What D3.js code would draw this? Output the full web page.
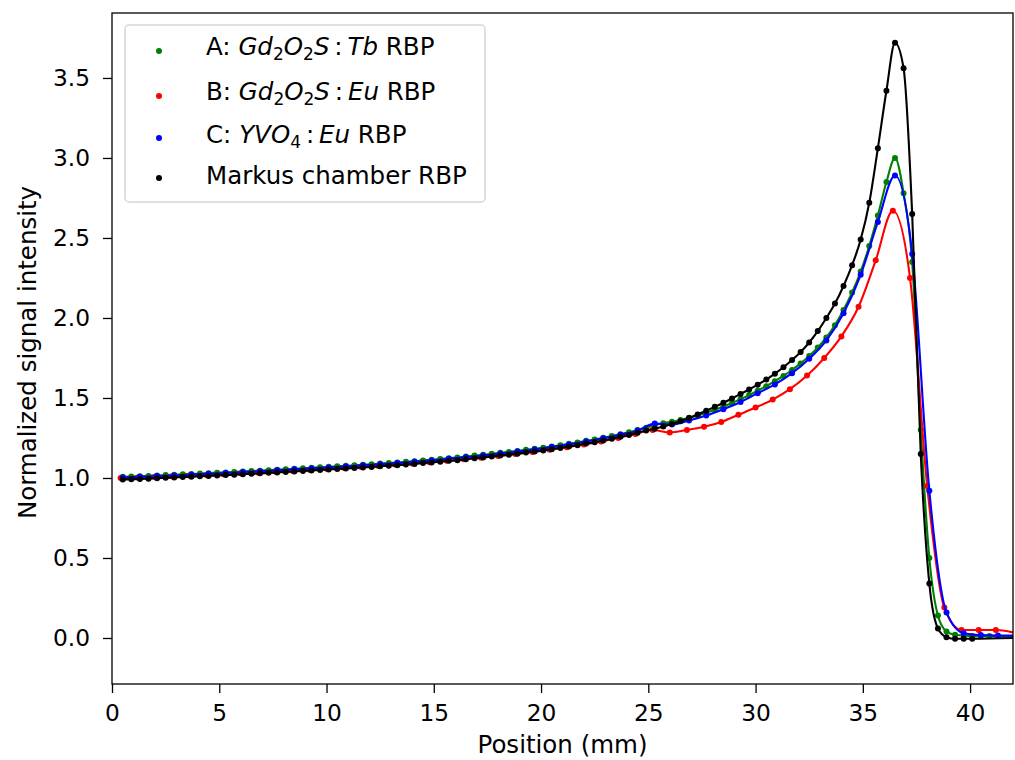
<!DOCTYPE html>
<html><head><meta charset="utf-8">
<script src="https://cdn.jsdelivr.net/npm/d3@7"></script>
<style>
body{margin:0;background:#fff}
text{font-family:"DejaVu Sans",sans-serif;fill:#000}
</style>
</head><body>
<svg id="c" width="1015" height="760"></svg>
<script>
// ---------- data ----------
const xTicks = [0,5,10,15,20,25,30,35,40];
const yTicks = [0,0.5,1,1.5,2,2.5,3,3.5];
const xDomain = [0,42];
const yDomain = [-0.2875,3.906];

// fine sampling (A and Markus chamber)
const xFine = [0.5,0.9,1.3,1.7,2.1,2.5,2.9,3.3,3.7,4.1,4.5,4.9,5.3,5.7,6.1,6.5,6.9,7.3,7.7,8.1,
 8.5,8.9,9.3,9.7,10.1,10.5,10.9,11.3,11.7,12.1,12.5,12.9,13.3,13.7,14.1,14.5,14.9,15.3,15.7,16.1,
 16.5,16.9,17.3,17.7,18.1,18.5,18.9,19.3,19.7,20.1,20.5,20.9,21.3,21.7,22.1,22.5,22.9,23.3,23.7,24.1,
 24.5,24.9,25.3,25.7,26.1,26.5,26.9,27.3,27.7,28.1,28.5,28.9,29.3,29.7,30.1,30.5,30.9,31.3,31.7,32.1,
 32.5,32.9,33.3,33.7,34.1,34.5,34.9,35.3,35.7,36.1,36.5,36.9,37.3,37.7,38.1,38.5,38.9,39.3,39.7,40.1,
 40.5,40.9];

const greenY = [1.007,1.009,1.011,1.013,1.016,1.018,1.020,1.023,1.025,1.028,
 1.030,1.033,1.035,1.038,1.041,1.043,1.046,1.049,1.052,1.055,
 1.058,1.061,1.064,1.067,1.070,1.073,1.076,1.079,1.083,1.086,
 1.090,1.094,1.097,1.101,1.105,1.110,1.114,1.119,1.124,1.128,
 1.134,1.140,1.145,1.151,1.157,1.163,1.169,1.176,1.182,1.189,
 1.197,1.205,1.214,1.222,1.232,1.241,1.251,1.263,1.274,1.286,
 1.300,1.314,
 1.330,1.342,1.352,1.363,1.376,1.390,1.407,1.426,1.447,1.469,
 1.493,1.518,1.545,1.574,1.605,1.638,1.675,1.716,1.762,1.815,
 1.878,1.955,2.050,2.160,2.290,2.450,2.640,2.850,3.000,2.780,
 2.350,1.300,0.500,0.140,0.040,0.020,0.015,0.012,0.012,0.012];

const blackY = [0.990,0.992,0.994,0.996,0.999,1.001,1.003,1.006,1.008,1.011,
 1.013,1.016,1.018,1.021,1.024,1.026,1.029,1.032,1.035,1.038,
 1.041,1.044,1.047,1.050,1.053,1.056,1.059,1.062,1.066,1.069,
 1.073,1.077,1.080,1.084,1.088,1.093,1.097,1.102,1.107,1.111,
 1.117,1.123,1.128,1.134,1.140,1.146,1.152,1.159,1.165,1.172,
 1.180,1.188,1.197,1.205,1.215,1.224,1.234,1.246,1.257,1.269,
 1.283,1.297,
 1.308,1.322,1.338,1.355,1.375,1.397,1.420,1.445,1.470,1.497,
 1.525,1.553,1.583,1.615,1.652,1.692,1.737,1.787,1.847,1.918,
 2.000,2.090,2.200,2.330,2.490,2.720,3.060,3.420,3.720,3.560,
 2.650,1.150,0.340,0.060,0.005,-0.005,-0.005,-0.005];

// coarse sampling (B and C)
const xRed = [0.4,1.2,2.0,2.8,3.6,4.4,5.2,6.0,6.8,7.6,8.4,9.2,10.0,10.8,11.6,12.4,13.2,14.0,14.8,15.6,
 16.4,17.2,18.0,18.8,19.6,20.4,21.2,22.0,22.8,23.6,24.4,25.2,26.0,26.8,27.6,28.4,29.2,30.0,30.8,31.6,
 32.4,33.2,34.0,34.8,35.6,36.4,37.2,38.0,38.8,39.6,40.4,41.2];
const redY = [1.000,1.003,1.007,1.011,1.015,1.019,1.024,1.029,1.034,1.040,
 1.046,1.052,1.058,1.064,1.070,1.077,1.084,1.091,1.099,1.108,
 1.117,1.127,1.138,1.150,1.162,1.176,1.192,1.209,1.228,1.250,
 1.275,1.300,1.285,1.300,1.320,1.350,1.395,1.440,1.490,1.555,
 1.640,1.750,1.885,2.070,2.360,2.670,2.250,0.950,0.190,0.050,
 0.050,0.050];

const xBlue = [0.5,1.3,2.1,2.9,3.7,4.5,5.3,6.1,6.9,7.7,8.5,9.3,10.1,10.9,11.7,12.5,13.3,14.1,14.9,15.7,
 16.5,17.3,18.1,18.9,19.7,20.5,21.3,22.1,22.9,23.7,24.5,25.3,26.1,26.9,27.7,28.5,29.3,30.1,30.9,31.7,
 32.5,33.3,34.1,34.9,35.7,36.5,37.3,38.1,38.9,39.7,40.5,41.3];
const blueY = [1.003,1.007,1.012,1.016,1.021,1.026,1.031,1.037,1.042,1.048,
 1.054,1.060,1.066,1.072,1.079,1.086,1.093,1.101,1.110,1.120,
 1.130,1.141,1.153,1.165,1.178,1.193,1.210,1.228,1.248,1.270,
 1.296,1.340,1.335,1.360,1.390,1.430,1.475,1.530,1.585,1.655,
 1.745,1.860,2.030,2.270,2.600,2.890,2.400,0.920,0.160,0.030,
 0.018,0.015];

// fitted-line value at the right edge (x = 42), per series
const lineEndX = 42;
const greenEnd = 0.012, redEnd = 0.035, blueEnd = 0.015, blackEnd = 0.0;

const seriesColors = ["#008000","#ff0000","#0000ff","#000000"];

// ---------- drawing ----------
const svg = d3.select("#c");
const L=112, R=1013, T=13, B=684;
const x = d3.scaleLinear().domain(xDomain).range([L,R]);
const y = d3.scaleLinear().domain(yDomain).range([B,T]);

svg.append("rect").attr("width",1015).attr("height",760).attr("fill","#fff");
svg.append("defs").append("clipPath").attr("id","clip")
  .append("rect").attr("x",L).attr("y",T).attr("width",R-L).attr("height",B-T);

const series = [
  {xs:xFine, ys:greenY, end:greenEnd, c:seriesColors[0]},
  {xs:xRed,  ys:redY,   end:redEnd,   c:seriesColors[1]},
  {xs:xBlue, ys:blueY,  end:blueEnd,  c:seriesColors[2]},
  {xs:xFine.slice(0,blackY.length), ys:blackY, end:blackEnd, c:seriesColors[3]}
];

const line = d3.line().x(d=>x(d[0])).y(d=>y(d[1])).curve(d3.curveMonotoneX);
const plot = svg.append("g").attr("clip-path","url(#clip)");
series.forEach(s=>{
  const pts = s.xs.map((v,i)=>[v,s.ys[i]]);
  const lpts = pts.concat([[lineEndX,s.end]]);
  plot.append("path").attr("d",line(lpts)).attr("fill","none")
    .attr("stroke",s.c).attr("stroke-width",2.1);
  plot.append("g").selectAll("circle").data(pts).join("circle")
    .attr("cx",d=>x(d[0])).attr("cy",d=>y(d[1])).attr("r",3).attr("fill",s.c);
});

// axes
const xAxis = d3.axisBottom(x).tickValues(xTicks).tickFormat(d3.format("d")).tickSize(9).tickPadding(11);
const yAxis = d3.axisLeft(y).tickValues(yTicks).tickFormat(d3.format(".1f")).tickSize(9).tickPadding(13);
const gx = svg.append("g").attr("transform",`translate(0,${B})`).call(xAxis);
const gy = svg.append("g").attr("transform",`translate(${L},0)`).call(yAxis);
[gx,gy].forEach(g=>{
  g.select(".domain").remove();
  g.selectAll(".tick line").attr("stroke","#000").attr("stroke-width",1.3);
  g.selectAll(".tick text").attr("font-size",23.3).attr("font-family","DejaVu Sans").attr("fill","#000");
});
svg.append("rect").attr("x",L).attr("y",T).attr("width",R-L).attr("height",B-T)
  .attr("fill","none").attr("stroke","#000").attr("stroke-width",1.3);

// axis labels
svg.append("text").attr("x",(L+R)/2).attr("y",753).attr("text-anchor","middle")
  .attr("font-size",24.5).text("Position (mm)");
svg.append("text").attr("transform",`translate(36,${(T+B)/2+4}) rotate(-90)`)
  .attr("text-anchor","middle").attr("font-size",24.5).text("Normalized signal intensity");

// legend
const lg = svg.append("g");
lg.append("rect").attr("x",125).attr("y",25).attr("width",360).attr("height",177).attr("rx",4)
  .attr("fill","#fff").attr("fill-opacity",0.85).attr("stroke","#d6d6d6").attr("stroke-width",1.5);
const rowsDot = [51,96,138,178];
const rowsBase = [55,100,143,184];
const legendParts = [
  [["A: ",""],["Gd","i"],["2","s"],["O","i"],["2","s"],["S","i"],["\u2009:\u2009",""],["Tb","i"],[" RBP",""]],
  [["B: ",""],["Gd","i"],["2","s"],["O","i"],["2","s"],["S","i"],["\u2009:\u2009",""],["Eu","i"],[" RBP",""]],
  [["C: ",""],["YVO","i"],["4","s"],["\u2009:\u2009",""],["Eu","i"],[" RBP",""]],
  [["Markus chamber RBP",""]]
];
legendParts.forEach((parts,i)=>{
  lg.append("circle").attr("cx",159).attr("cy",rowsDot[i]).attr("r",3).attr("fill",seriesColors[i]);
  const t = lg.append("text").attr("x",206).attr("y",rowsBase[i]).attr("font-size",24.5)
    .attr("xml:space","preserve").style("white-space","pre");
  let down = false;
  parts.forEach(([str,k])=>{
    const ts = t.append("tspan").text(str);
    if(k==="i") ts.attr("font-style","italic");
    if(k==="s"){ ts.attr("font-size",17).attr("dy", down?0:5); down=true; }
    else if(down){ ts.attr("dy",-5); down=false; }
  });
});
</script>
</body></html>
